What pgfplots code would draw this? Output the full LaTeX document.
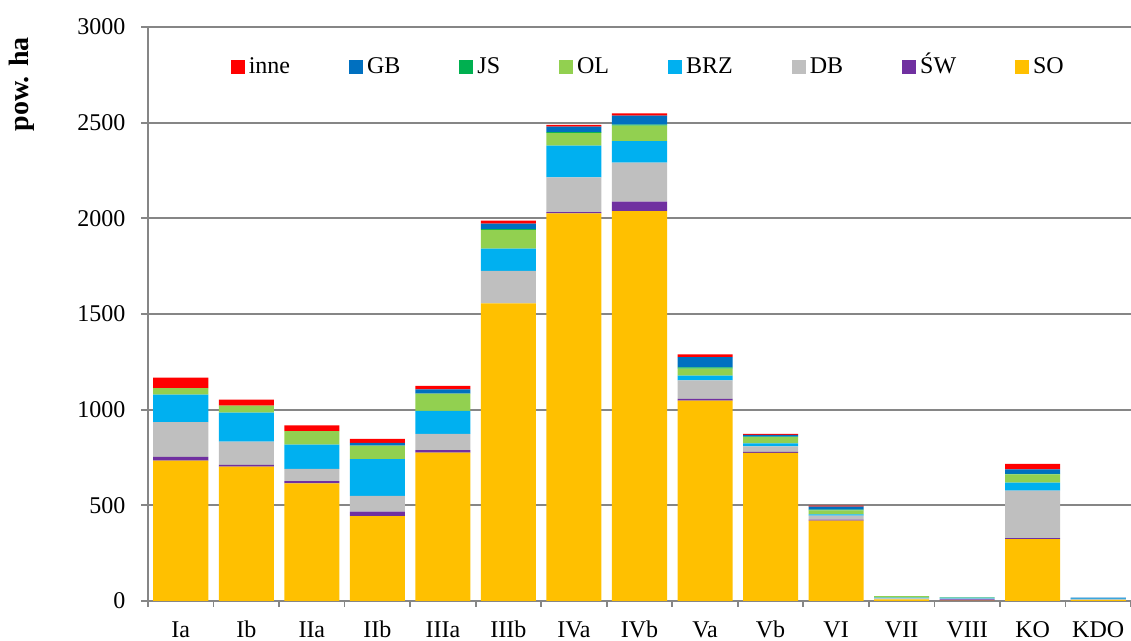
\documentclass[border=0pt]{standalone}
\usepackage{pgfplots}
\usepackage{pgfplotstable}
\pgfplotsset{compat=1.18}
\usepackage{fontspec}
\setmainfont{Liberation Serif}
\definecolor{cSO}{HTML}{FFC000}
\definecolor{cSW}{HTML}{7030A0}
\definecolor{cDB}{HTML}{BFBFBF}
\definecolor{cBRZ}{HTML}{00B0F0}
\definecolor{cOL}{HTML}{92D050}
\definecolor{cJS}{HTML}{00B050}
\definecolor{cGB}{HTML}{0070C0}
\definecolor{cinne}{HTML}{FF0000}
\definecolor{axgray}{HTML}{868686}
\pgfplotstableread{
x SO SW DB BRZ OL JS GB inne
0 733 20 182 143 35 0 0 54
1 702 10 121 151 37 0 0 31
2 615 12 63 127 71 0 0 30
3 443 24 83 192 70 0 14 21
4 775 13 85 120 91 0 22 18
5 1556 0 169 116 98 5 28 16
6 2026 7 181 166 66 5 28 10
7 2038 49 204 112 81 6 47 12
8 1047 9 97 25 36 7 53 15
9 774 6 28 16 32 3 9 6
10 420 5 21 7 21 3 16 6
11 8 0 6 3 9 0 0 0
12 2 7 4 5 2 0 0 0
13 324 4 249 41 44 3 23 28
14 6 0 2 5 0 0 4 0
}\datatable
\begin{document}
\begin{tikzpicture}
\begin{axis}[
  name=ax,
  scale only axis,
  width=491.5pt, height=287pt,
  ybar stacked,
  bar width=0.84,
  xmin=-0.5, xmax=14.5,
  ymin=0, ymax=3000,
  ytick={0,500,...,3000},
  xtick={0,...,14},
  xticklabels={Ia,Ib,IIa,IIb,IIIa,IIIb,IVa,IVb,Va,Vb,VI,VII,VIII,KO,KDO},
  minor xtick={-0.5,0.5,...,14.5},
  axis lines*=left,
  axis line style={axgray, line width=0.85pt},
  ymajorgrids,
  major grid style={axgray, line width=0.85pt},
  tick style={axgray, line width=0.85pt},
  tick align=outside,
  major tick length=3.3pt,
  minor tick length=3pt,
  every major x tick/.append style={draw=none},
  /pgf/number format/assume math mode=true,
  /pgf/number format/1000 sep={},
  yticklabel style={font=\fontsize{12}{14}\selectfont, xshift=-4.5pt},
  xticklabel style={font=\fontsize{12}{14}\selectfont, anchor=base, yshift=-15pt},
  ylabel={\textbf{pow. ha}},
  ylabel style={at={(axis description cs:-0.128,0.9)}, anchor=center, font=\fontsize{14}{16}\selectfont},
  legend columns=8,
  reverse legend,
  legend style={at={(0.51,0.93)}, anchor=center, draw=none, fill=none,
    font=\fontsize{12}{14}\selectfont,
    nodes={text height=1.75ex, text depth=0.3ex},
    /tikz/every even column/.append style={column sep=27.5pt}},
  legend image code/.code={\fill[#1] (0pt,-3.5pt) rectangle (7pt,3.5pt);},
]
\addplot[fill=cSO, draw=none] table[x=x,y=SO]{\datatable};
\addlegendentry{SO}
\addplot[fill=cSW, draw=none] table[x=x,y=SW]{\datatable};
\addlegendentry{ŚW}
\addplot[fill=cDB, draw=none] table[x=x,y=DB]{\datatable};
\addlegendentry{DB}
\addplot[fill=cBRZ, draw=none] table[x=x,y=BRZ]{\datatable};
\addlegendentry{BRZ}
\addplot[fill=cOL, draw=none] table[x=x,y=OL]{\datatable};
\addlegendentry{OL}
\addplot[fill=cJS, draw=none] table[x=x,y=JS]{\datatable};
\addlegendentry{JS}
\addplot[fill=cGB, draw=none] table[x=x,y=GB]{\datatable};
\addlegendentry{GB}
\addplot[fill=cinne, draw=none] table[x=x,y=inne]{\datatable};
\addlegendentry{inne}
\end{axis}
\pgfresetboundingbox
\path[use as bounding box] ([shift={(-74pt,-20pt)}]ax.south west) rectangle ([shift={(0pt,13.5pt)}]ax.north east);
\end{tikzpicture}
\end{document}
